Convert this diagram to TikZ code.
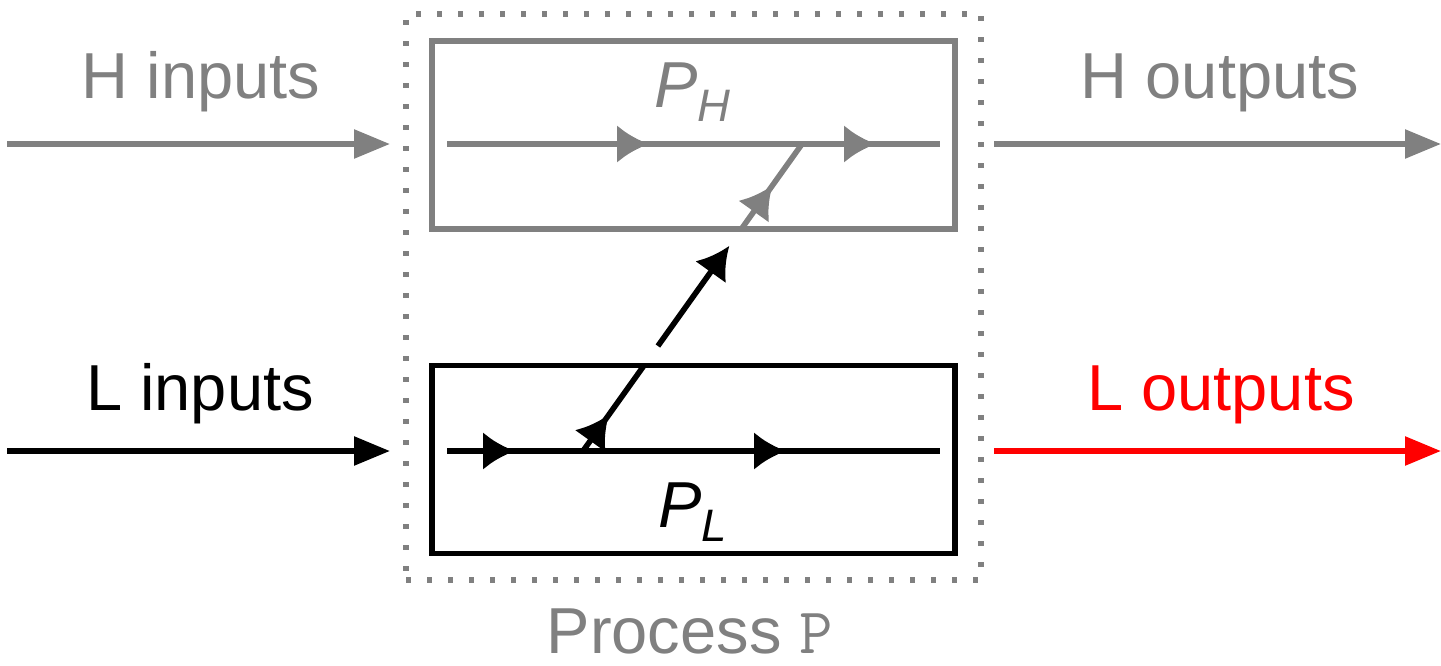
\documentclass[tikz,border=0pt]{standalone}
\usepackage{fontspec}
\setmainfont{Liberation Sans}
\usetikzlibrary{arrows.meta,calc}

\definecolor{hgray}{gray}{0.5}
\definecolor{lred}{rgb}{1,0,0}

\tikzset{
  flow/.style={line width=2.8pt},
  endtip/.tip={Triangle[length=18pt,width=14pt]},
  midtip/.tip={Latex[length=16pt,width=19pt]},
  procbox/.style={draw, line width=2.6pt, minimum width=261.5pt, minimum height=94pt, inner sep=0pt},
  lbl/.style={font=\fontsize{32.5}{36}\selectfont, inner sep=0pt, anchor=base},
}

\begin{document}
\begin{tikzpicture}[x=0.5pt, y=-0.5pt]
  \useasboundingbox (0,0) rectangle (1441,665);

  % outer process boundary
  \node[draw=hgray, line width=2.6pt, dash pattern=on 2.6pt off 7.9pt,
        minimum width=287.5pt, minimum height=283pt, inner sep=0pt] (P) at (693.5,297) {};

  % high and low sub-processes
  \node[procbox, draw=hgray] (PH) at (693.5,135) {};
  \node[procbox, draw=black] (PL) at (693.5,459.5) {};

  % labels
  \node[lbl, text=hgray] (hin)  at (201,98)  {H inputs};
  \node[lbl, text=hgray] (hout) at (1220,98) {H outputs};
  \node[lbl, text=black] (lin)  at (200,410) {L inputs};
  \node[lbl, text=lred]  (lout) at (1221,410) {L outputs};
  \node[lbl, text=hgray] (phl)  at (693,107) {\itshape P\textsubscript{H}};
  \node[lbl, text=black] (pll)  at (693,527) {\itshape P\textsubscript{L}};
  \node[lbl, text=hgray] (pname) at (690,653) {Process \texttt{P}};

  % external channels
  \coordinate (hinA)  at (7,144);
  \coordinate (hinB)  at (390,144);
  \coordinate (houtA) at (994,144);
  \coordinate (houtB) at (1441,144);
  \coordinate (linA)  at (7,451);
  \coordinate (linB)  at (390,451);
  \coordinate (loutA) at (994,451);
  \coordinate (loutB) at (1441,451);
  \draw[flow, hgray, -{endtip}] (hinA) -- (hinB);
  \draw[flow, hgray, -{endtip}] (houtA) -- (houtB);
  \draw[flow, black, -{endtip}] (linA) -- (linB);
  \draw[flow, lred,  -{endtip}] (loutA) -- (loutB);

  % internal flow of P_H: a through line with two direction marks
  \coordinate (h1) at (447,144);
  \coordinate (h2) at (649,144);
  \coordinate (h3) at (876,144);
  \coordinate (h4) at (940,144);
  \draw[flow, hgray] (h1) -- (h4);
  \draw[flow, hgray, -{midtip}] ($(h2)+(-20,0)$) -- (h2);
  \draw[flow, hgray, -{midtip}] ($(h3)+(-20,0)$) -- (h3);

  % internal flow of P_L
  \coordinate (l1) at (447,451);
  \coordinate (l2) at (515,451);
  \coordinate (l3) at (786,451);
  \coordinate (l4) at (940,451);
  \draw[flow, black] (l1) -- (l4);
  \draw[flow, black, -{midtip}] ($(l2)+(-20,0)$) -- (l2);
  \draw[flow, black, -{midtip}] ($(l3)+(-20,0)$) -- (l3);

  % upward flow from P_L into P_H
  \coordinate (dA) at (583,451);
  \coordinate (dB) at (802,144);
  \coordinate (d0) at ($(dA)!0.05!(dB)$);
  \coordinate (d1) at ($(dA)!0.118!(dB)$);
  \coordinate (d2) at ($(dA)!0.280!(dB)$);
  \coordinate (d3) at ($(dA)!0.342!(dB)$);
  \coordinate (d4) at ($(dA)!0.668!(dB)$);
  \coordinate (d5) at ($(dA)!0.723!(dB)$);
  \coordinate (d6a) at ($(dA)!0.80!(dB)$);
  \coordinate (d6) at ($(dA)!0.865!(dB)$);
  \draw[flow, black] (dA) -- (d2);
  \draw[flow, black, -{midtip}] (d0) -- (d1);
  \draw[flow, black, -{midtip}] (d3) -- (d4);
  \draw[flow, hgray] (d5) -- (dB);
  \draw[flow, hgray, -{midtip}] (d6a) -- (d6);
\end{tikzpicture}
\end{document}
